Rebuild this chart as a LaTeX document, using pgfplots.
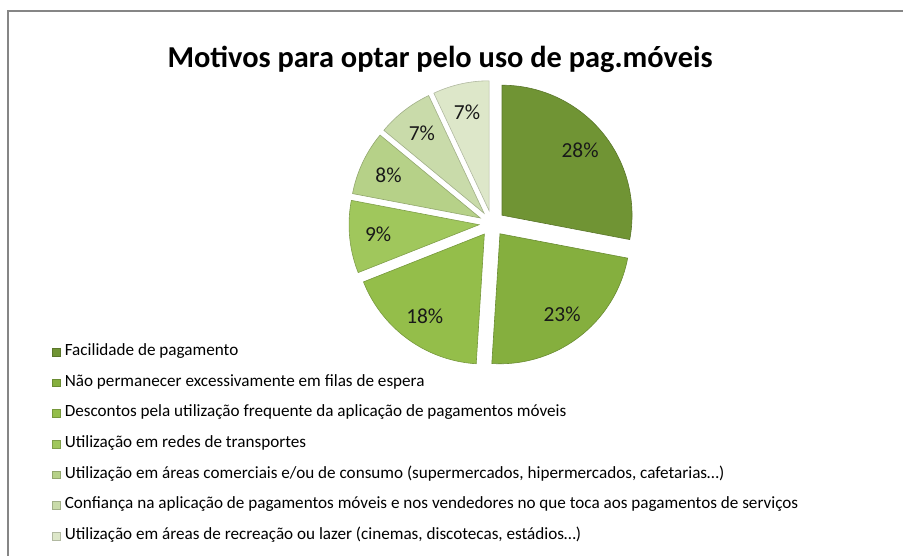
\documentclass[border=0pt]{standalone}
\usepackage{pgfplots}
\pgfplotsset{compat=1.18}
\usepackage{fontspec}
\setmainfont{Carlito}
\definecolor{s1}{RGB}{112,148,52}
\definecolor{s2}{RGB}{133,175,62}
\definecolor{s3}{RGB}{148,190,74}
\definecolor{s4}{RGB}{160,199,92}
\definecolor{s5}{RGB}{182,209,136}
\definecolor{s6}{RGB}{201,219,170}
\definecolor{s7}{RGB}{221,231,201}
\definecolor{frame}{RGB}{134,134,134}
\def\cx{492}\def\cy{332.5}\def\R{130}\def\D{13}
\newcommand\pielabelfont{\fontsize{21.5}{25}\selectfont}
\newcommand\slice[4]{%
  \pgfmathsetmacro\mid{(#1+#2)/2}%
  \pgfmathsetmacro\ox{\cx+\D*cos(\mid)}%
  \pgfmathsetmacro\oy{\cy+\D*sin(\mid)}%
  \pgfmathsetmacro\lx{\ox+0.78*\R*cos(\mid)}%
  \pgfmathsetmacro\ly{\oy+0.78*\R*sin(\mid)}%
  \edef\doit{\noexpand\addplot[fill=#3, draw=#3!80!black, line width=0.6pt, domain=#2:#1, samples=80, variable=\noexpand\t]
     ({\ox+\R*cos(\noexpand\t)},{\oy+\R*sin(\noexpand\t)}) -- (axis cs:\ox,\oy) -- cycle;
     \noexpand\node[font=\noexpand\pielabelfont, text=black!90] at (axis cs:\lx,\ly) {#4\noexpand\%};}%
  \doit
}
\begin{document}
\begin{tikzpicture}
\useasboundingbox (0,0) rectangle (903bp,556bp);
\begin{axis}[
  at={(0,0)}, anchor=south west,
  scale only axis, width=903bp, height=556bp,
  xmin=0, xmax=903, ymin=0, ymax=556,
  hide axis, clip=false,
  legend entries={
    {Facilidade de pagamento},
    {Não permanecer excessivamente em filas de espera},
    {Descontos pela utilização frequente da aplicação de pagamentos móveis},
    {Utilização em redes de transportes},
    {Utilização em áreas comerciais e/ou de consumo (supermercados, hipermercados, cafetarias\ldots)},
    {Confiança na aplicação de pagamentos móveis e nos vendedores no que toca aos pagamentos de serviços},
    {Utilização em áreas de recreação ou lazer (cinemas, discotecas, estádios\ldots)}
  },
  legend cell align=left,
  legend image code/.code={\fill[#1] (0bp,-3.8bp) rectangle (7.5bp,3.8bp); \path[draw=none,fill=none] (0bp,0bp) -- (12.5bp,0bp);},
  legend style={at={(axis cs:52,211.5)}, anchor=north west, draw=none, fill=none,
    inner sep=0pt, outer sep=0pt, row sep=15.7bp,
    font=\fontsize{17.2}{20}\selectfont,
    nodes={inner sep=0pt, text height=11bp, text depth=4bp}},
]
\foreach \v [count=\i, remember=\e as \s (initially 90)] in {28,23,18,9,8,7,7} {
  \pgfmathsetmacro\e{\s-3.6*\v}
  \slice{\s}{\e}{s\i}{\v}
}
\node[font=\fontsize{30.5}{36}\selectfont\bfseries] at (axis cs:440,497) {Motivos para optar pelo uso de pag.móveis};
\draw[frame, line width=2bp] (axis cs:8,0) -- (axis cs:8,545) -- (axis cs:903,545);
\end{axis}
\end{tikzpicture}
\end{document}
